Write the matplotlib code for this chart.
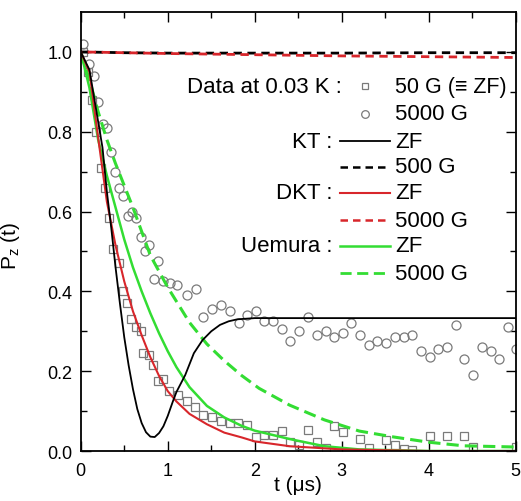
import numpy as np
import matplotlib
matplotlib.use("Agg")
import matplotlib.pyplot as plt

plt.rcParams['font.family'] = ['Liberation Sans', 'DejaVu Sans']
plt.rcParams['mathtext.fontset'] = 'custom'
plt.rcParams['mathtext.rm'] = 'Liberation Sans'
plt.rcParams['mathtext.it'] = 'Liberation Sans:italic'
plt.rcParams['mathtext.default'] = 'rm'

# data at 0.03 K, 50 G (squares)
t_sq = [0.03, 0.08, 0.13, 0.18, 0.23, 0.28, 0.33, 0.37, 0.44, 0.48, 0.53, 0.58, 0.63, 0.69,
        0.72, 0.78, 0.83, 0.89, 0.94, 1.01, 1.12, 1.22, 1.31, 1.41, 1.51, 1.61, 1.71, 1.81,
        1.91, 2.01, 2.11, 2.21, 2.31, 2.41, 2.51, 2.61, 2.71, 2.82, 2.91, 3.01, 3.21, 3.31,
        3.51, 3.61, 3.71, 3.81, 4.01, 4.21, 4.41, 4.51, 5.0]
p_sq = [1.00, 0.95, 0.88, 0.80, 0.71, 0.66, 0.585, 0.505, 0.47, 0.40, 0.37, 0.33, 0.31, 0.30,
        0.245, 0.24, 0.215, 0.175, 0.18, 0.15, 0.14, 0.125, 0.11, 0.09, 0.085, 0.075, 0.07, 0.07,
        0.065, 0.035, 0.04, 0.04, 0.05, 0.022, 0.015, 0.052, 0.022, 0.008, 0.063, 0.048, 0.03, 0.008,
        0.028, 0.016, 0.005, 0.003, 0.038, 0.038, 0.038, 0.01, 0.01]

# data at 0.03 K, 5000 G (circles)
t_ci = [0.03, 0.10, 0.15, 0.20, 0.25, 0.30, 0.35, 0.39, 0.44, 0.49, 0.54, 0.59, 0.64, 0.69,
        0.74, 0.79, 0.84, 0.89, 0.94, 1.02, 1.11, 1.22, 1.32, 1.40, 1.51, 1.61, 1.71, 1.82,
        1.91, 2.01, 2.11, 2.21, 2.31, 2.41, 2.51, 2.61, 2.71, 2.82, 2.91, 3.01, 3.11, 3.21,
        3.31, 3.41, 3.51, 3.61, 3.71, 3.81, 3.91, 4.01, 4.11, 4.21, 4.31, 4.41, 4.51, 4.61,
        4.71, 4.81, 4.91, 5.00]
p_ci = [1.02, 0.97, 0.94, 0.875, 0.82, 0.81, 0.75, 0.70, 0.66, 0.64, 0.59, 0.60, 0.585, 0.535,
        0.50, 0.515, 0.43, 0.475, 0.425, 0.42, 0.415, 0.39, 0.405, 0.335, 0.355, 0.365, 0.35, 0.32,
        0.34, 0.35, 0.325, 0.325, 0.305, 0.275, 0.30, 0.335, 0.29, 0.30, 0.285, 0.295, 0.32, 0.29,
        0.265, 0.275, 0.27, 0.285, 0.285, 0.29, 0.25, 0.235, 0.255, 0.26, 0.315, 0.23, 0.19, 0.26,
        0.25, 0.23, 0.31, 0.255]

# KT ZF
t_kt = [0.0, 0.1, 0.2, 0.25, 0.3, 0.35, 0.4, 0.45, 0.5, 0.55, 0.6, 0.65, 0.7, 0.75, 0.8, 0.85,
        0.9, 0.95, 1.0, 1.06, 1.1, 1.2, 1.3, 1.4, 1.5, 1.6, 1.7, 1.8, 2.0, 2.5, 5.0]
p_kt = [1.0, 0.955, 0.825, 0.76, 0.65, 0.56, 0.46, 0.37, 0.285, 0.215, 0.155, 0.105, 0.07, 0.047,
        0.036, 0.035, 0.045, 0.062, 0.088, 0.125, 0.148, 0.19, 0.245, 0.278, 0.30, 0.316, 0.325,
        0.33, 0.333, 0.333, 0.333]
# KT 500 G
t_kt5 = [0.0, 0.5, 1.0, 2.0, 3.0, 4.0, 5.0]
p_kt5 = [1.0, 0.998, 0.997, 0.997, 0.997, 0.998, 0.998]

# DKT ZF
t_dkt = [0.0, 0.1, 0.2, 0.3, 0.4, 0.5, 0.6, 0.7, 0.8, 0.9, 1.0, 1.1, 1.25, 1.45, 1.65, 1.85,
         2.0, 2.4, 3.0, 4.0, 5.0]
p_dkt = [1.0, 0.95, 0.785, 0.625, 0.515, 0.425, 0.35, 0.29, 0.235, 0.188, 0.15, 0.124, 0.093,
         0.067, 0.046, 0.034, 0.024, 0.012, 0.004, 0.0, 0.0]
# DKT 5000 G
t_dkt5 = [0.0, 0.5, 1.0, 2.0, 3.0, 4.0, 5.0]
p_dkt5 = [1.0, 0.998, 0.996, 0.993, 0.99, 0.988, 0.986]

# Uemura ZF
t_ue = [0.0, 0.1, 0.2, 0.3, 0.4, 0.5, 0.6, 0.7, 0.8, 0.9, 1.0, 1.1, 1.25, 1.45, 1.65, 1.85,
        2.0, 2.4, 2.8, 3.2, 4.0, 5.0]
p_ue = [1.0, 0.91, 0.78, 0.69, 0.61, 0.53, 0.46, 0.40, 0.345, 0.295, 0.25, 0.21, 0.16, 0.113,
        0.084, 0.063, 0.051, 0.03, 0.012, 0.004, 0.0, 0.0]
# Uemura 5000 G
t_ue5 = [0.0, 0.1, 0.2, 0.3, 0.4, 0.5, 0.6, 0.7, 0.8, 0.9, 1.0, 1.25, 1.45, 1.65, 1.85, 2.05,
         2.4, 2.8, 3.2, 3.6, 4.0, 4.4, 5.0]
p_ue5 = [1.0, 0.93, 0.85, 0.78, 0.72, 0.665, 0.61, 0.55, 0.49, 0.45, 0.41, 0.322, 0.268, 0.226,
         0.189, 0.157, 0.115, 0.078, 0.05, 0.035, 0.022, 0.013, 0.01]

RED = '#d8262b'
GREEN = '#33dd33'
GRAY = '#7a7a7a'

fig = plt.figure(figsize=(5.21, 5.02), dpi=100)
ax = fig.add_axes([0.155, 0.0996, 0.835, 0.8745])

ax.plot(t_sq, p_sq, ls='none', marker='s', ms=5.5, mfc='none', mec=GRAY, mew=0.9)
ax.plot(t_ci, p_ci, ls='none', marker='o', ms=6.5, mfc='none', mec=GRAY, mew=0.9)

ax.plot(t_ue5, p_ue5, color=GREEN, lw=2.2, dashes=(4, 2))
ax.plot(t_ue, p_ue, color=GREEN, lw=1.8)
ax.plot(t_dkt, p_dkt, color=RED, lw=1.5)
ax.plot(t_kt, p_kt, color='black', lw=1.3)
ax.plot(t_kt5, p_kt5, color='black', lw=2.0, dashes=(3, 2))
ax.plot(t_dkt5, p_dkt5, color=RED, lw=2.0, ls=(2.5, (3, 2)))

ax.set_xlim(0, 5)
ax.set_ylim(0, 1.1)
ax.set_xticks([0, 1, 2, 3, 4, 5])
ax.set_xticks([0.5, 1.5, 2.5, 3.5, 4.5], minor=True)
ax.set_yticks([0.0, 0.2, 0.4, 0.6, 0.8, 1.0])
ax.set_yticks([0.1, 0.3, 0.5, 0.7, 0.9], minor=True)
ax.set_yticklabels(['0.0', '0.2', '0.4', '0.6', '0.8', '1.0'])
ax.tick_params(which='both', direction='in', top=True, right=True, width=1.0)
ax.tick_params(which='major', length=7, labelsize=13)
ax.tick_params(which='minor', length=4)
ax.tick_params(axis='x', pad=8)
ax.tick_params(axis='y', pad=6)
for s in ax.spines.values():
    s.set_linewidth(1.3)

ax.set_xlabel('t (\u03bcs)', fontsize=15)
ax.set_ylabel('P$_z$ (t)', fontsize=15)
ax.xaxis.set_label_coords(0.5, -0.055)
ax.yaxis.set_label_coords(-0.135, 0.47)

# legend drawn by hand
rows = [0.831, 0.768, 0.706, 0.647, 0.588, 0.526, 0.467, 0.405]
fs = 16
tr = ax.transAxes
ax.text(0.600, rows[0], 'Data at 0.03 K :', transform=tr, ha='right', va='center', fontsize=fs)
ax.plot([0.653], [rows[0]], transform=tr, marker='s', ms=5, mfc='none', mec=GRAY, mew=0.9)
ax.text(0.722, rows[0], '50 G (\u2261 ZF)', transform=tr, ha='left', va='center', fontsize=15.5)
ax.plot([0.653], [rows[1]], transform=tr, marker='o', ms=5.5, mfc='none', mec=GRAY, mew=0.9)
ax.text(0.722, rows[1], '5000 G', transform=tr, ha='left', va='center', fontsize=fs)

entries = [
    ('KT :', 'ZF', 'black', 1.3, None),
    (None, '500 G', 'black', 1.8, (3, 2)),
    ('DKT :', 'ZF', RED, 1.5, None),
    (None, '5000 G', RED, 1.8, (3, 2)),
    ('Uemura :', 'ZF', GREEN, 1.8, None),
    (None, '5000 G', GREEN, 2.0, (4, 2)),
]
for i, (left, right, col, lw, dsh) in enumerate(entries):
    y = rows[i + 2]
    if left:
        ax.text(0.578, y, left, transform=tr, ha='right', va='center', fontsize=fs)
    ln, = ax.plot([0.595, 0.710], [y, y], transform=tr, color=col, lw=lw)
    if dsh:
        ln.set_dashes(dsh)
    ax.text(0.722, y, right, transform=tr, ha='left', va='center', fontsize=fs)

fig.savefig('out.png', dpi=100)
